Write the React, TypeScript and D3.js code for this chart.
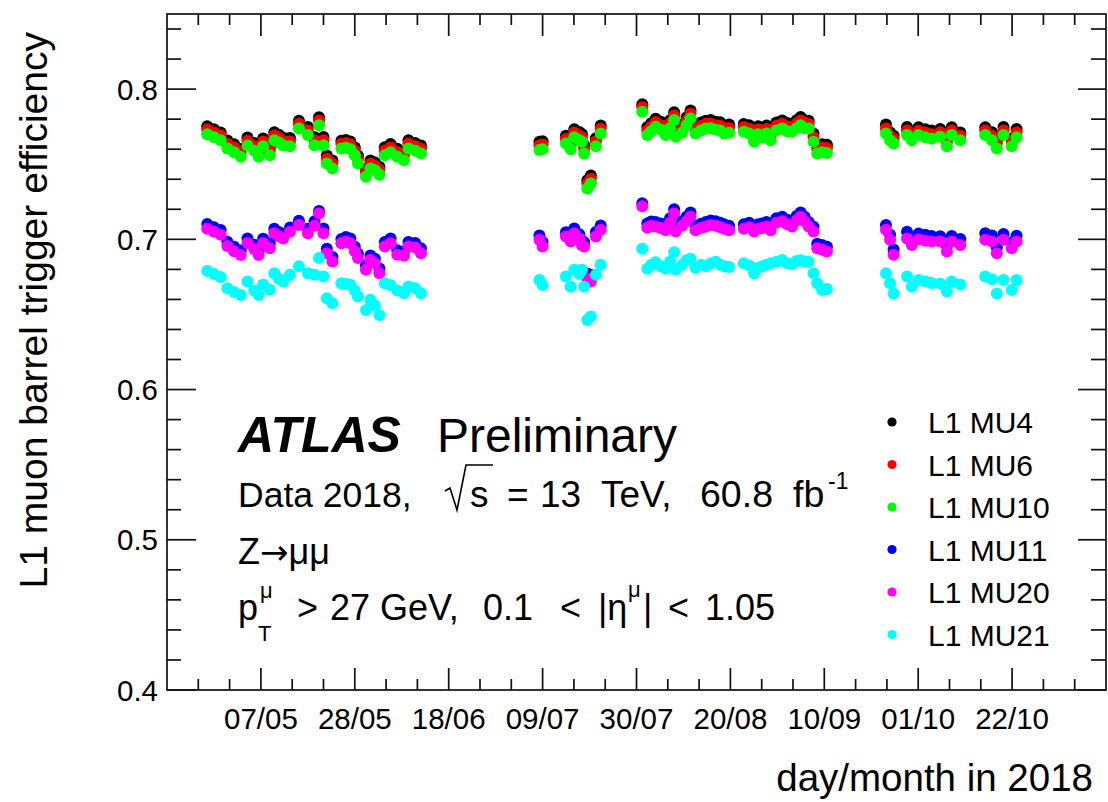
import React from 'react';
import * as d3 from 'd3';

// ---------- data ----------
const runDates = [
  // segment 1
  '2018-04-25 00','2018-04-26 12','2018-04-28 00','2018-04-29 12','2018-05-01 00','2018-05-02 12','2018-05-04 00','2018-05-05 12','2018-05-06 12','2018-05-07 12',
  '2018-05-09 00','2018-05-10 00','2018-05-11 00','2018-05-12 00','2018-05-13 12','2018-05-15 12','2018-05-17 12','2018-05-19 00','2018-05-20 00','2018-05-21 00',
  '2018-05-21 18','2018-05-23 00','2018-05-25 00','2018-05-26 00','2018-05-27 00','2018-05-28 00','2018-05-28 17','2018-05-30 12','2018-05-31 12','2018-06-01 12',
  '2018-06-02 12','2018-06-03 17','2018-06-05 00','2018-06-06 12','2018-06-08 00','2018-06-09 00','2018-06-10 12','2018-06-11 19',
  // segment 2
  '2018-07-08 07','2018-07-09 00','2018-07-14 05','2018-07-15 07','2018-07-16 02','2018-07-17 05','2018-07-17 19','2018-07-18 07','2018-07-19 00','2018-07-19 19',
  '2018-07-20 22','2018-07-22 00',
  // segment 3
  '2018-07-31 07','2018-08-01 10','2018-08-02 07','2018-08-03 07','2018-08-04 10','2018-08-05 12','2018-08-06 12','2018-08-07 10','2018-08-07 19','2018-08-09 05',
  '2018-08-10 05','2018-08-11 02','2018-08-12 05','2018-08-13 10','2018-08-14 12','2018-08-15 14','2018-08-16 17','2018-08-17 17','2018-08-18 14','2018-08-19 17',
  '2018-08-23 00','2018-08-24 05','2018-08-25 07','2018-08-26 05','2018-08-27 02','2018-08-28 02','2018-08-29 00','2018-08-30 07','2018-08-31 14','2018-09-01 17',
  '2018-09-02 19','2018-09-03 19','2018-09-04 17','2018-09-05 14','2018-09-06 12','2018-09-07 14','2018-09-08 10','2018-09-09 12','2018-09-10 14',
  // segment 4
  '2018-09-23 19','2018-09-24 17','2018-09-25 12',
  // segment 5
  '2018-09-28 12','2018-09-29 14','2018-10-01 02','2018-10-02 14','2018-10-04 00','2018-10-05 22','2018-10-07 10','2018-10-08 12','2018-10-10 10',
  // segment 6
  '2018-10-16 00','2018-10-17 12','2018-10-18 14','2018-10-20 02','2018-10-21 22','2018-10-23 00',
];

const effMU4 = [
  .7752,.7733,.7712,.7658,.7633,.7602,.7678,.7641,.7603,.7672,.7611,.7713,.7697,.7676,.7674,.7790,.7747,.7680,.7813,.7682,
  .7558,.7524,.7657,.7662,.7652,.7611,.7556,.7469,.7525,.7512,.7483,.7613,.7634,.7603,.7580,.7659,.7642,.7625,
  .7649,.7653,.7690,.7654,.7733,.7714,.7702,.7626,.7394,.7425,.7673,.7758,
  .7900,.7748,.7772,.7803,.7782,.7747,.7793,.7846,.7736,.7763,.7812,.7857,.7759,.7777,.7790,.7794,.7782,.7779,.7757,.7764,
  .7768,.7759,.7702,.7753,.7734,.7757,.7713,.7778,.7791,.7774,.7769,.7792,.7814,.7793,.7790,.7704,.7625,.7633,.7629,
  .7765,.7712,.7690,
  .7747,.7713,.7746,.7733,.7724,.7735,.7673,.7746,.7712,
  .7746,.7713,.7658,.7747,.7672,.7734,
];

const effMU6 = [
  .7731,.7712,.7691,.7636,.7611,.7581,.7656,.7620,.7582,.7651,.7590,.7692,.7676,.7655,.7652,.7769,.7725,.7658,.7791,.7659,
  .7536,.7503,.7636,.7641,.7631,.7590,.7535,.7447,.7503,.7490,.7461,.7591,.7612,.7581,.7558,.7637,.7620,.7603,
  .7625,.7631,.7668,.7631,.7711,.7690,.7679,.7603,.7370,.7402,.7651,.7736,
  .7879,.7725,.7751,.7781,.7760,.7724,.7771,.7825,.7713,.7741,.7790,.7836,.7736,.7755,.7769,.7771,.7760,.7756,.7735,.7741,
  .7747,.7736,.7680,.7731,.7711,.7735,.7691,.7756,.7769,.7751,.7746,.7771,.7791,.7771,.7768,.7681,.7603,.7611,.7606,
  .7738,.7690,.7668,
  .7724,.7691,.7723,.7711,.7700,.7713,.7651,.7724,.7690,
  .7725,.7690,.7636,.7724,.7651,.7711,
];

const effMU10 = [
  .7700,.7680,.7660,.7605,.7580,.7550,.7625,.7590,.7550,.7620,.7560,.7660,.7645,.7625,.7620,.7738,.7694,.7627,.7760,.7627,
  .7505,.7472,.7605,.7610,.7600,.7560,.7505,.7416,.7472,.7460,.7430,.7560,.7580,.7550,.7527,.7605,.7590,.7572,
  .7594,.7600,.7638,.7600,.7680,.7660,.7649,.7572,.7339,.7372,.7620,.7705,
  .7849,.7694,.7720,.7750,.7730,.7694,.7740,.7794,.7683,.7710,.7760,.7805,.7705,.7725,.7738,.7740,.7730,.7725,.7705,.7710,
  .7716,.7705,.7649,.7700,.7680,.7705,.7660,.7725,.7738,.7720,.7716,.7740,.7760,.7740,.7738,.7650,.7572,.7580,.7575,
  .7705,.7660,.7638,
  .7694,.7660,.7694,.7680,.7670,.7683,.7620,.7694,.7660,
  .7694,.7660,.7605,.7694,.7620,.7680,
];

const effMU11 = [
  .7102,.7081,.7062,.6984,.6951,.6926,.7006,.6964,.6925,.7004,.6972,.7071,.7049,.7036,.7079,.7124,.7070,.7121,.7188,.7072,
  .6937,.6883,.7003,.7016,.7005,.6951,.6904,.6828,.6893,.6871,.6806,.6983,.7005,.6928,.6921,.6982,.6976,.6940,
  .7025,.6982,.7047,.7015,.7072,.7034,.6990,.6981,.6772,.6762,.7049,.7092,
  .7240,.7105,.7118,.7116,.7105,.7090,.7140,.7200,.7082,.7120,.7150,.7178,.7090,.7104,.7115,.7126,.7120,.7110,.7101,.7090,
  .7100,.7110,.7082,.7101,.7106,.7115,.7091,.7140,.7150,.7131,.7117,.7155,.7178,.7151,.7116,.7083,.6971,.6962,.6950,
  .7095,.7030,.6932,
  .7050,.7000,.7038,.7030,.7022,.7021,.6958,.7022,.7003,
  .7040,.7025,.6945,.7036,.6980,.7024,
];

const effMU20 = [
  .7070,.7050,.7030,.6955,.6920,.6895,.6975,.6935,.6895,.6975,.6940,.7040,.7020,.7005,.7050,.7095,.7040,.7090,.7172,.7041,
  .6908,.6852,.6974,.6985,.6974,.6920,.6875,.6797,.6863,.6840,.6775,.6952,.6974,.6897,.6890,.6952,.6945,.6908,
  .6997,.6952,.7019,.6985,.7040,.7005,.6960,.6952,.6740,.6719,.7019,.7063,
  .7221,.7077,.7090,.7085,.7075,.7060,.7110,.7172,.7052,.7090,.7120,.7150,.7060,.7075,.7085,.7095,.7090,.7080,.7070,.7060,
  .7070,.7080,.7052,.7070,.7075,.7085,.7060,.7110,.7120,.7100,.7085,.7125,.7150,.7120,.7085,.7052,.6940,.6930,.6919,
  .7064,.6997,.6897,
  .7006,.6963,.7000,.6990,.6985,.6985,.6919,.6985,.6963,
  .6997,.6985,.6908,.6997,.6941,.6985,
];

const effMU21 = [
  .6790,.6770,.6750,.6675,.6650,.6630,.6720,.6660,.6630,.6700,.6665,.6775,.6740,.6720,.6765,.6820,.6775,.6765,.6875,.6753,
  .6608,.6575,.6708,.6705,.6697,.6660,.6619,.6529,.6597,.6560,.6496,.6708,.6695,.6660,.6641,.6686,.6675,.6641,
  .6729,.6696,.6752,.6685,.6797,.6770,.6797,.6685,.6463,.6486,.6764,.6831,
  .6937,.6804,.6830,.6848,.6820,.6805,.6850,.6914,.6797,.6830,.6860,.6870,.6810,.6830,.6820,.6840,.6850,.6830,.6820,.6815,
  .6840,.6825,.6775,.6810,.6820,.6830,.6840,.6850,.6863,.6840,.6835,.6855,.6860,.6850,.6850,.6775,.6707,.6663,.6670,
  .6775,.6707,.6640,
  .6752,.6685,.6730,.6720,.6710,.6705,.6652,.6720,.6700,
  .6752,.6735,.6640,.6730,.6663,.6730,
];

const seriesNames = ['L1 MU4', 'L1 MU6', 'L1 MU10', 'L1 MU11', 'L1 MU20', 'L1 MU21'];
const seriesColors = ['#000000', '#ff0000', '#00ff00', '#0000ff', '#ff00ff', '#00ffff'];
const seriesValues = [effMU4, effMU6, effMU10, effMU11, effMU20, effMU21];

const xDomain = ['16/04/2018', '12/11/2018'];
const xTickLabels = ['07/05', '28/05', '18/06', '09/07', '30/07', '20/08', '10/09', '01/10', '22/10'];
const yDomain = [0.4, 0.85];
const yTickValues = [0.4, 0.5, 0.6, 0.7, 0.8];

const FONT = '"Liberation Sans", Arial, Helvetica, sans-serif';

export default function App() {
  const parseRun = d3.timeParse('%Y-%m-%d %H');
  const parseDay = d3.timeParse('%d/%m/%Y');
  const L = 167, R = 1106, T = 14, B = 690;

  const x = d3.scaleTime()
    .domain([parseDay(xDomain[0]) as Date, parseDay(xDomain[1]) as Date])
    .range([L, R]);
  const y = d3.scaleLinear().domain(yDomain).range([B, T]);

  const majorDates = xTickLabels.map((s) => parseDay(s + '/2018') as Date);
  const majorSet = new Set(majorDates.map((d) => +d));
  const minorDates = d3.timeMonday
    .range(x.domain()[0], x.domain()[1])
    .filter((d) => !majorSet.has(+d) && +d !== +x.domain()[0]);

  const yMinor = d3.range(0.42, 0.8499, 0.02).filter(
    (v) => !yTickValues.some((t) => Math.abs(t - v) < 1e-6)
  );

  const sw = 1.7;
  const tickColor = '#111';

  const points = runDates.map((s) => parseRun(s) as Date);

  const legendY = d3.scaleLinear().domain([0, 5]).range([422, 634.5]);

  const txt = (s: string, xx: number, yy: number, fs: number, extra: any = {}) => (
    <text x={xx} y={yy} fontSize={fs} fill="#000" {...extra}>{s}</text>
  );

  return (
    <svg
      width={1108}
      height={802}
      style={{ position: 'absolute', left: 0, top: 0, background: '#fff' }}
      fontFamily={FONT}
    >
      <rect x={0} y={0} width={1108} height={802} fill="#fff" />

      {/* data */}
      {seriesValues.map((vals, si) => (
        <g key={si} fill={seriesColors[si]}>
          {vals.map((v, i) => (
            <circle key={i} cx={x(points[i])} cy={y(v)} r={6} />
          ))}
        </g>
      ))}

      {/* frame */}
      <rect x={L} y={T} width={R - L} height={B - T} fill="none" stroke={tickColor} strokeWidth={sw} />

      {/* x ticks bottom & top */}
      {majorDates.map((d, i) => (
        <g key={'xm' + i} stroke={tickColor} strokeWidth={sw}>
          <line x1={x(d)} x2={x(d)} y1={B} y2={B - 22} />
          <line x1={x(d)} x2={x(d)} y1={T} y2={T + 22} />
        </g>
      ))}
      {minorDates.map((d, i) => (
        <g key={'xn' + i} stroke={tickColor} strokeWidth={sw}>
          <line x1={x(d)} x2={x(d)} y1={B} y2={B - 11} />
          <line x1={x(d)} x2={x(d)} y1={T} y2={T + 11} />
        </g>
      ))}
      {majorDates.map((d, i) => (
        <text key={'xl' + i} x={x(d)} y={729} fontSize={29.5} textAnchor="middle" fill="#000">
          {xTickLabels[i]}
        </text>
      ))}

      {/* y ticks left & right */}
      {yTickValues.map((v, i) => (
        <g key={'ym' + i} stroke={tickColor} strokeWidth={sw}>
          <line x1={L} x2={L + 29} y1={y(v)} y2={y(v)} />
          <line x1={R} x2={R - 28} y1={y(v)} y2={y(v)} />
        </g>
      ))}
      {yMinor.map((v, i) => (
        <g key={'yn' + i} stroke={tickColor} strokeWidth={sw}>
          <line x1={L} x2={L + 14} y1={y(v)} y2={y(v)} />
          <line x1={R} x2={R - 15} y1={y(v)} y2={y(v)} />
        </g>
      ))}
      {yTickValues.map((v, i) => (
        <text key={'yl' + i} x={158} y={y(v) + 10.5} fontSize={29.5} textAnchor="end" fill="#000">
          {v.toFixed(1)}
        </text>
      ))}

      {/* axis titles */}
      <text
        transform="translate(47,32) rotate(-90)"
        fontSize={39}
        textAnchor="end"
        fill="#000"
      >
        L1 muon barrel trigger efficiency
      </text>
      <text x={1093} y={791} fontSize={38.5} textAnchor="end" fill="#000">
        day/month in 2018
      </text>

      {/* ATLAS label */}
      <text x={238} y={452} fontSize={50} fontWeight="bold" fontStyle="italic" fill="#000">
        ATLAS
      </text>
      {txt('Preliminary', 437, 452, 48)}

      {/* Data line */}
      {txt('Data 2018,', 238, 507, 35.5)}
      <path d="M445,491 L450,488 L457,510 L466,465 L493,465" fill="none" stroke="#000" strokeWidth={1.6} />
      {txt('s', 470, 507, 37)}
      {txt('=', 507, 507, 37)}
      {txt('13', 540, 507, 37)}
      {txt('TeV,', 601, 507, 37)}
      {txt('60.8', 700, 507, 37.5)}
      {txt('fb', 793, 507, 37.5)}
      {txt('-1', 828, 489, 23)}

      {/* Z line */}
      <text x={238} y={564} fontSize={36} fill="#000">
        Z
        <tspan fontFamily='"DejaVu Sans", sans-serif' fontSize={34}>→</tspan>
        <tspan>μμ</tspan>
      </text>

      {/* pT line */}
      {txt('p', 238, 620, 36)}
      {txt('μ', 260, 598, 22)}
      {txt('T', 258, 641, 22)}
      {txt('>', 297, 620, 36)}
      {txt('27', 330, 620, 36)}
      {txt('GeV,', 380, 620, 36)}
      {txt('0.1', 483, 620, 36)}
      {txt('<', 560, 620, 36)}
      {txt('|η', 598, 620, 36)}
      {txt('μ', 628, 597, 22)}
      {txt('|', 643, 620, 36)}
      {txt('<', 668, 620, 36)}
      {txt('1.05', 705, 620, 36)}

      {/* legend */}
      {seriesNames.map((n, i) => (
        <g key={'lg' + i}>
          <circle cx={892} cy={legendY(i)} r={4.6} fill={seriesColors[i]} />
          <text x={928} y={legendY(i) + 11} fontSize={30} fill="#000">
            {n}
          </text>
        </g>
      ))}
    </svg>
  );
}
